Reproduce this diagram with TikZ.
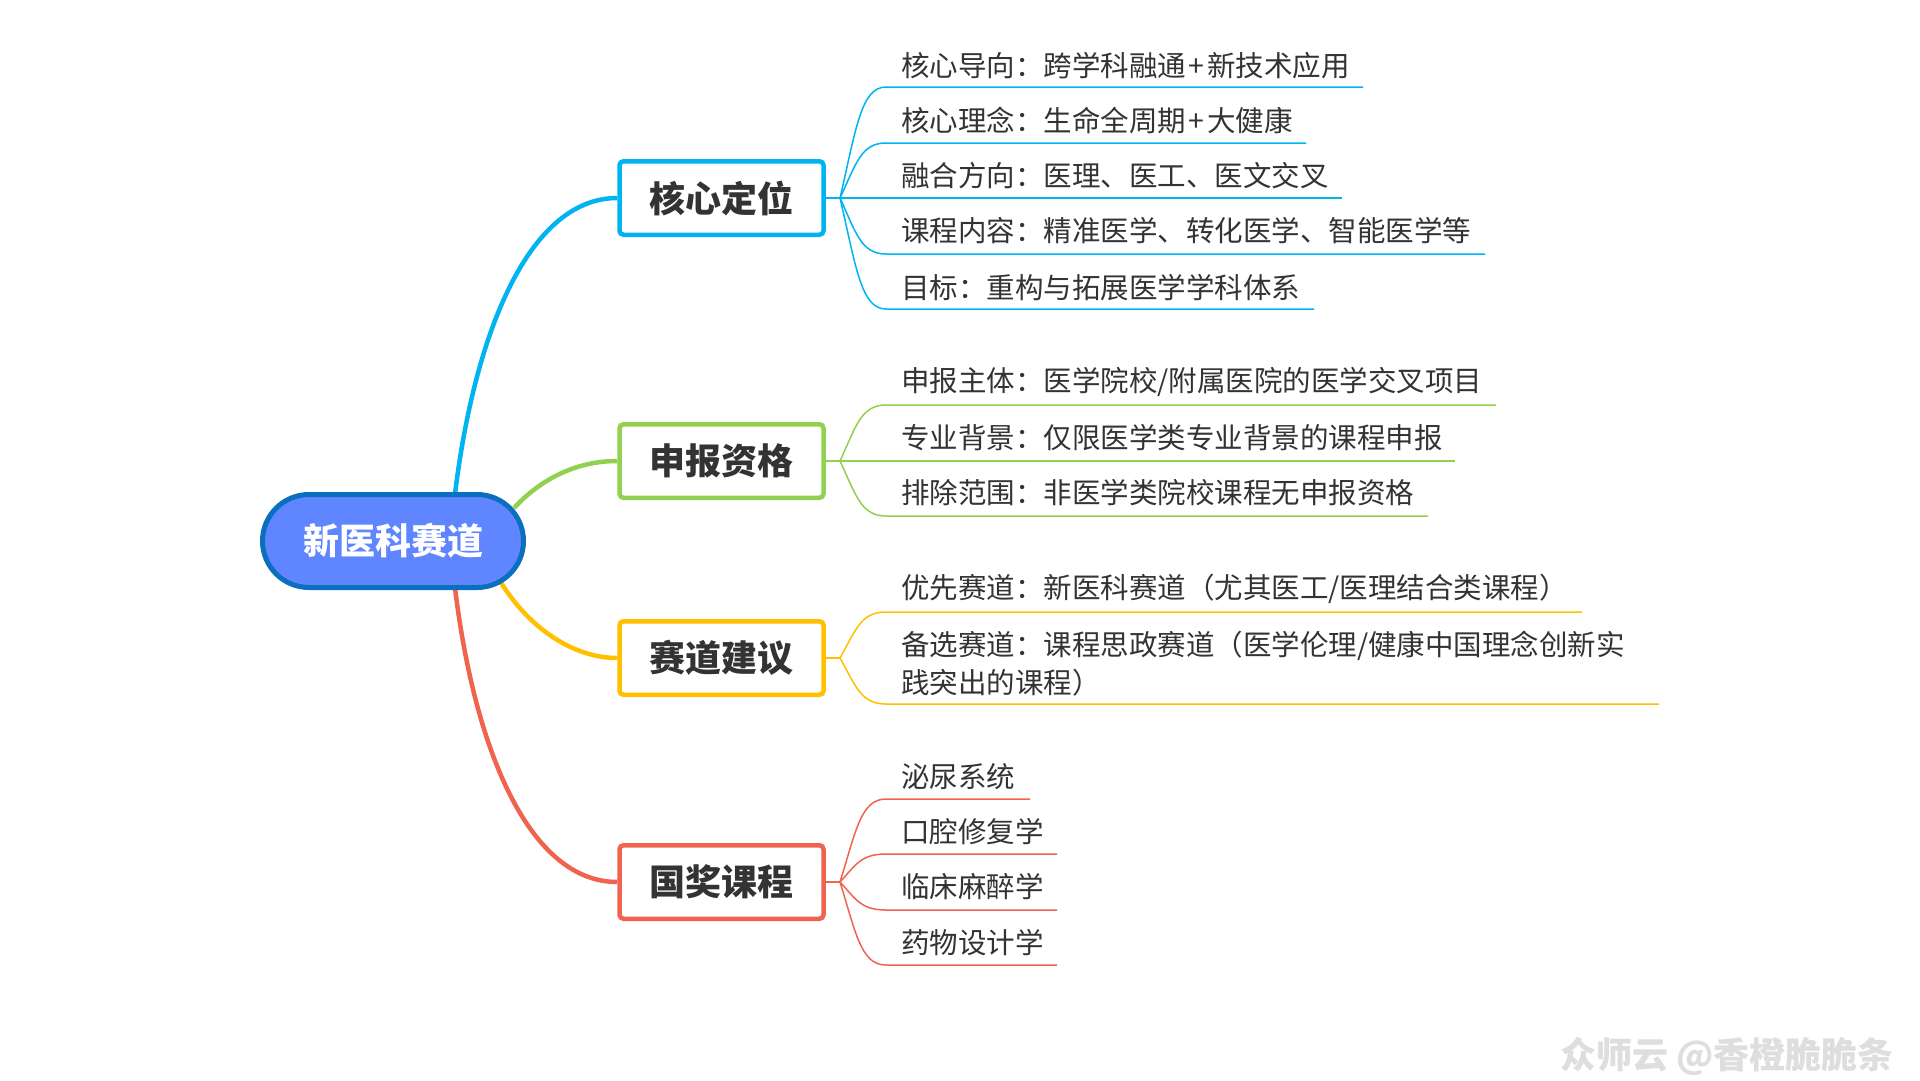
\documentclass[tikz,border=0pt]{standalone}
\usepackage{fontspec}
\setmainfont{Noto Sans CJK SC}
\usetikzlibrary{shapes.misc,calc}
\pgfdeclarelayer{bg}
\pgfsetlayers{bg,main}
\definecolor{cblue}{HTML}{00B4F1}
\definecolor{cgreen}{HTML}{92D050}
\definecolor{cyellow}{HTML}{FFC000}
\definecolor{cred}{HTML}{F0644F}
\definecolor{rootfill}{HTML}{5F86FF}
\definecolor{rootline}{HTML}{0A6FBE}
\definecolor{ink}{HTML}{333333}
\definecolor{mark}{HTML}{DEDEDE}
\tikzset{
  rootnode/.style={rounded rectangle,draw=rootline,fill=rootfill,line width=5pt,minimum width=261pt,minimum height=93pt,inner sep=0pt,text=white,font=\fontsize{36}{42}\selectfont\bfseries},
  topicbox/.style={draw=#1,fill=white,line width=4.5pt,rounded corners=4pt,minimum width=204pt,minimum height=73.5pt,inner sep=0pt,text=ink,font=\fontsize{36}{42}\selectfont\bfseries},
  leaftext/.style={anchor=west,inner sep=0pt,text=ink,align=left,font=\fontsize{28.5}{38}\selectfont},
  branch/.style={draw=#1,line width=4.5pt},
  twig/.style={draw=#1,line width=1.5pt},
  wmark/.style={anchor=west,inner sep=0pt,text=mark,font=\fontsize{36}{40}\selectfont\bfseries}
}
\newcommand{\plussign}{\hspace{2.5pt}+\hspace{2.5pt}}
\newcommand{\topiclabel}[1]{\raisebox{-1.2pt}{#1}}
\newcommand{\twigline}[3]{%
  \path let \p1=(#2), \p2=(#3) in
    coordinate (c1) at ($(\x1+16pt,\y1)!0.62!(\x1+16pt,\y2)$)
    coordinate (c2) at (\x1+21pt,\y2)
    coordinate (c3) at (\x1+46pt,\y2);
  \draw[twig=#1] (#2) .. controls (c1) and (c2) .. (c3) -- (#3);
}
\begin{document}
\begin{tikzpicture}[x=1pt,y=-1pt]
\useasboundingbox (0,0) rectangle (1920,1080);
\begin{pgfonlayer}{bg}
\fill[white] (0,0) rectangle (1920,1080);
\end{pgfonlayer}
\node[rootnode] (root) at (393,541) {新医科赛道};
\node[topicbox=cblue] (t1) at (721.5,198) {\topiclabel{核心定位}};
\node[topicbox=cgreen] (t2) at (721.5,461) {\topiclabel{申报资格}};
\node[topicbox=cyellow] (t3) at (721.5,658) {\topiclabel{赛道建议}};
\node[topicbox=cred] (t4) at (721.5,882) {\topiclabel{国奖课程}};
\coordinate (sb) at ([xshift=62pt,yshift=-2pt]root.north);
\coordinate (sg) at ([xshift=-12pt,yshift=33pt]root.east);
\coordinate (sy) at ([xshift=-26pt,yshift=-40pt]root.east);
\coordinate (sr) at ([xshift=62pt,yshift=2pt]root.south);
\coordinate (j1) at (840,198);
\coordinate (j2) at (840,461);
\coordinate (j3) at (840,658);
\coordinate (j4) at (840,882);
\node[leaftext] (a1) at (901,65.5) {核心导向：跨学科融通\plussign 新技术应用};
\node[leaftext] (a2) at (901,120.5) {核心理念：生命全周期\plussign 大健康};
\node[leaftext] (a3) at (901,176) {融合方向：医理、医工、医文交叉};
\node[leaftext] (a4) at (901,231) {课程内容：精准医学、转化医学、智能医学等};
\node[leaftext] (a5) at (901,287.5) {目标：重构与拓展医学学科体系};
\node[leaftext] (b1) at (901,382) {申报主体：医学院校/附属医院的医学交叉项目};
\node[leaftext] (b2) at (901,437.5) {专业背景：仅限医学类专业背景的课程申报};
\node[leaftext] (b3) at (901,492.5) {排除范围：非医学类院校课程无申报资格};
\node[leaftext] (c1n) at (901,589) {优先赛道：新医科赛道（尤其医工/医理结合类课程）};
\node[leaftext] (c2n) at (901,664) {备选赛道：课程思政赛道（医学伦理/健康中国理念创新实\\践突出的课程）};
\node[leaftext] (d1) at (901,777) {泌尿系统};
\node[leaftext] (d2) at (901,831.5) {口腔修复学};
\node[leaftext] (d3) at (901,887) {临床麻醉学};
\node[leaftext] (d4) at (901,942.5) {药物设计学};
\node[wmark] (wm) at (1560,1056) {众师云 @香橙脆脆条};
\coordinate (ea1) at (1363,87);
\coordinate (ea2) at (1306,143);
\coordinate (ea3) at (1342,198);
\coordinate (ea4) at (1485,254);
\coordinate (ea5) at (1314,309);
\coordinate (eb1) at (1496,405);
\coordinate (eb2) at (1455,461);
\coordinate (eb3) at (1428,516);
\coordinate (ec1) at (1582,612);
\coordinate (ec2) at (1659,704);
\coordinate (ed1) at (1030,799);
\coordinate (ed2) at (1057,854);
\coordinate (ed3) at (1057,910);
\coordinate (ed4) at (1057,965);
\begin{pgfonlayer}{bg}
\draw[branch=cblue] (sb) .. controls (475,330) and (530,198) .. (t1.west);
\draw[branch=cgreen] (sg) .. controls (540,480) and (575,461) .. (t2.west);
\draw[branch=cyellow] (sy) .. controls (530,630) and (575,658) .. (t3.west);
\draw[branch=cred] (sr) .. controls (475,752) and (530,882) .. (t4.west);
\draw[twig=cblue] (t1.east) -- (j1);
\draw[twig=cgreen] (t2.east) -- (j2);
\draw[twig=cyellow] (t3.east) -- (j3);
\draw[twig=cred] (t4.east) -- (j4);
\twigline{cblue}{j1}{ea1}
\twigline{cblue}{j1}{ea2}
\draw[twig=cblue] (j1) -- (ea3);
\twigline{cblue}{j1}{ea4}
\twigline{cblue}{j1}{ea5}
\twigline{cgreen}{j2}{eb1}
\draw[twig=cgreen] (j2) -- (eb2);
\twigline{cgreen}{j2}{eb3}
\twigline{cyellow}{j3}{ec1}
\twigline{cyellow}{j3}{ec2}
\twigline{cred}{j4}{ed1}
\twigline{cred}{j4}{ed2}
\twigline{cred}{j4}{ed3}
\twigline{cred}{j4}{ed4}
\end{pgfonlayer}
\end{tikzpicture}
\end{document}
